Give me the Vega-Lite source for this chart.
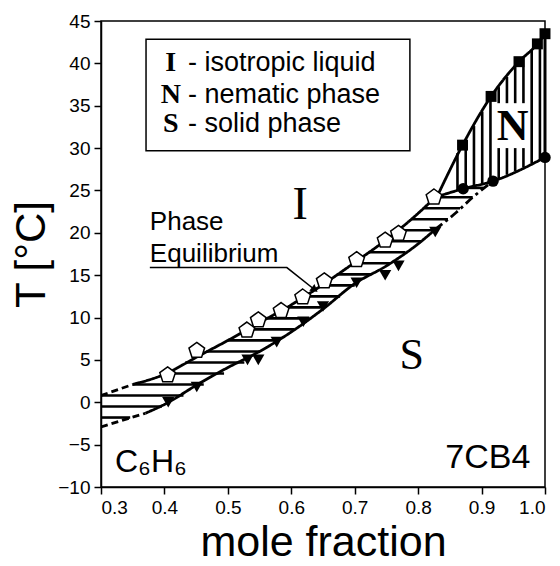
{
  "$schema": "https://vega.github.io/schema/vega-lite/v6.json",
  "width": 444,
  "height": 466,
  "autosize": "none",
  "padding": {"left": 101, "top": 21, "right": 15, "bottom": 79},
  "background": "white",
  "config": {
    "view": {"stroke": "black", "strokeWidth": 1.5},
    "axis": {
      "labelFont": "Liberation Sans", "labelFontSize": 19, "labelColor": "black",
      "titleFont": "Liberation Sans", "titleFontSize": 42, "titleFontWeight": "normal", "titleColor": "black",
      "domainColor": "black", "domainWidth": 1.5, "tickColor": "black", "tickWidth": 1.5, "tickSize": 7,
      "grid": false, "labelPadding": 4
    }
  },
  "datasets": {
    "one": [{}],
    "curves": [
      {"s": "liqd", "x": 0.3, "y": 0.8}, {"s": "liqd", "x": 0.35, "y": 2.1},
      {"s": "liq", "x": 0.35, "y": 2.1}, {"s": "liq", "x": 0.40, "y": 3.3}, {"s": "liq", "x": 0.45, "y": 5.3},
      {"s": "liq", "x": 0.50, "y": 7.3}, {"s": "liq", "x": 0.55, "y": 9.4}, {"s": "liq", "x": 0.60, "y": 11.5},
      {"s": "liq", "x": 0.65, "y": 13.9}, {"s": "liq", "x": 0.70, "y": 16.5}, {"s": "liq", "x": 0.75, "y": 19.2},
      {"s": "liq", "x": 0.80, "y": 22.3}, {"s": "liq", "x": 0.827, "y": 24.2},
      {"s": "sold", "x": 0.3, "y": -2.9}, {"s": "sold", "x": 0.37, "y": -1.3},
      {"s": "sol", "x": 0.37, "y": -1.3}, {"s": "sol", "x": 0.404, "y": -0.1}, {"s": "sol", "x": 0.45, "y": 2.0},
      {"s": "sol", "x": 0.50, "y": 4.1}, {"s": "sol", "x": 0.55, "y": 6.0}, {"s": "sol", "x": 0.60, "y": 8.3},
      {"s": "sol", "x": 0.65, "y": 11.0}, {"s": "sol", "x": 0.70, "y": 14.0}, {"s": "sol", "x": 0.75, "y": 16.1},
      {"s": "sol", "x": 0.80, "y": 18.7}, {"s": "sol", "x": 0.827, "y": 20.4},
      {"s": "soldd", "x": 0.827, "y": 20.4}, {"s": "soldd", "x": 0.86, "y": 22.4}, {"s": "soldd", "x": 0.887, "y": 24.25}, {"s": "soldd", "x": 0.918, "y": 26.1},
      {"s": "nlow", "x": 0.827, "y": 24.2}, {"s": "nlow", "x": 0.871, "y": 25.2}, {"s": "nlow", "x": 0.918, "y": 26.1}, {"s": "nlow", "x": 1.0, "y": 28.9},
      {"s": "nup", "x": 0.83, "y": 24.3}, {"s": "nup", "x": 0.870, "y": 30.35}, {"s": "nup", "x": 0.915, "y": 36.1},
      {"s": "nup", "x": 0.959, "y": 40.2}, {"s": "nup", "x": 0.988, "y": 42.3}, {"s": "nup", "x": 1.0, "y": 43.5}
    ],
    "hatchH": [
      {"y": -1.8, "x": 0.3, "x2": 0.346}, {"y": -0.5, "x": 0.3, "x2": 0.396}, {"y": 0.8, "x": 0.3, "x2": 0.43},
      {"y": 2.1, "x": 0.35, "x2": 0.462}, {"y": 3.4, "x": 0.402, "x2": 0.494}, {"y": 4.7, "x": 0.433, "x2": 0.526},
      {"y": 6.0, "x": 0.466, "x2": 0.55}, {"y": 7.3, "x": 0.50, "x2": 0.578}, {"y": 8.6, "x": 0.531, "x2": 0.605},
      {"y": 9.9, "x": 0.562, "x2": 0.629}, {"y": 11.2, "x": 0.593, "x2": 0.653}, {"y": 12.5, "x": 0.621, "x2": 0.677},
      {"y": 13.8, "x": 0.648, "x2": 0.70}, {"y": 15.1, "x": 0.673, "x2": 0.726}, {"y": 16.4, "x": 0.698, "x2": 0.756},
      {"y": 17.7, "x": 0.722, "x2": 0.78}, {"y": 19.0, "x": 0.746, "x2": 0.805}, {"y": 20.3, "x": 0.768, "x2": 0.827},
      {"y": 21.6, "x": 0.789, "x2": 0.847}, {"y": 22.9, "x": 0.810, "x2": 0.866}, {"y": 24.2, "x": 0.830, "x2": 0.886},
      {"y": 25.3, "x": 0.876, "x2": 0.903}
    ],
    "hatchV": [
      {"x": 0.862, "y": 25.0, "y2": 29.4}, {"x": 0.875, "y": 25.3, "y2": 31.0}, {"x": 0.888, "y": 25.5, "y2": 32.6},
      {"x": 0.901, "y": 25.8, "y2": 34.3}, {"x": 0.914, "y": 26.0, "y2": 35.9},
      {"x": 0.927, "y": 26.4, "y2": 30.0}, {"x": 0.927, "y": 35.3, "y2": 37.2},
      {"x": 0.940, "y": 26.85, "y2": 30.0}, {"x": 0.940, "y": 35.3, "y2": 38.4},
      {"x": 0.953, "y": 27.3, "y2": 30.0}, {"x": 0.953, "y": 35.3, "y2": 39.6},
      {"x": 0.966, "y": 27.7, "y2": 30.0}, {"x": 0.966, "y": 35.3, "y2": 40.7},
      {"x": 0.979, "y": 28.2, "y2": 41.6}, {"x": 0.992, "y": 28.6, "y2": 42.7}
    ],
    "points": [
      {"k": "pent", "x": 0.405, "y": 3.2}, {"k": "pent", "x": 0.451, "y": 6.1}, {"k": "pent", "x": 0.530, "y": 8.5},
      {"k": "pent", "x": 0.548, "y": 9.7}, {"k": "pent", "x": 0.584, "y": 10.8}, {"k": "pent", "x": 0.618, "y": 12.4},
      {"k": "pent", "x": 0.652, "y": 14.3}, {"k": "pent", "x": 0.703, "y": 16.8}, {"k": "pent", "x": 0.748, "y": 19.1},
      {"k": "pent", "x": 0.769, "y": 19.9}, {"k": "pent", "x": 0.825, "y": 24.2},
      {"k": "tri", "x": 0.406, "y": 0.0}, {"k": "tri", "x": 0.451, "y": 1.8}, {"k": "tri", "x": 0.531, "y": 5.0},
      {"k": "tri", "x": 0.548, "y": 5.0}, {"k": "tri", "x": 0.577, "y": 7.1}, {"k": "tri", "x": 0.619, "y": 9.5},
      {"k": "tri", "x": 0.650, "y": 11.3}, {"k": "tri", "x": 0.703, "y": 14.1}, {"k": "tri", "x": 0.748, "y": 15.0},
      {"k": "tri", "x": 0.769, "y": 16.1}, {"k": "tri", "x": 0.827, "y": 20.1},
      {"k": "sq", "x": 0.870, "y": 30.35}, {"k": "sq", "x": 0.915, "y": 36.1}, {"k": "sq", "x": 0.959, "y": 40.2},
      {"k": "sq", "x": 0.988, "y": 42.3}, {"k": "sq", "x": 1.0, "y": 43.5},
      {"k": "circ", "x": 0.871, "y": 25.2}, {"k": "circ", "x": 0.918, "y": 26.1}, {"k": "circ", "x": 1.0, "y": 28.9}
    ],
    "leader": [
      {"x": 0.377, "y": 15.9, "o": 0}, {"x": 0.593, "y": 15.9, "o": 1}, {"x": 0.640, "y": 13.1, "o": 2}
    ],
    "legendRows": [
      {"sym": "I", "txt": "- isotropic liquid", "y": 40.0},
      {"sym": "N", "txt": "- nematic phase", "y": 36.3},
      {"sym": "S", "txt": "- solid phase", "y": 32.9}
    ]
  },
  "layer": [
    {
      "data": {"name": "hatchH"},
      "mark": {"type": "rule", "color": "black", "strokeWidth": 2.6, "clip": true},
      "encoding": {
        "x": {"field": "x", "type": "quantitative", "scale": {"domain": [0.3, 1.0], "nice": false, "zero": false},
              "axis": {"values": [0.3, 0.4, 0.5, 0.6, 0.7, 0.8, 0.9, 1.0], "format": ".1f", "title": "mole fraction", "titlePadding": 4, "titleFontSize": 43}},
        "x2": {"field": "x2"},
        "y": {"field": "y", "type": "quantitative", "scale": {"domain": [-10, 45], "nice": false, "zero": false},
              "axis": {"values": [-10, -5, 0, 5, 10, 15, 20, 25, 30, 35, 40, 45], "title": "T [°C]", "titlePadding": 4}}
      }
    },
    {
      "data": {"name": "hatchV"},
      "mark": {"type": "rule", "color": "black", "strokeWidth": 2.6},
      "encoding": {
        "x": {"field": "x", "type": "quantitative"},
        "y": {"field": "y", "type": "quantitative"},
        "y2": {"field": "y2"}
      }
    },
    {
      "data": {"name": "curves"},
      "mark": {"type": "line", "color": "black", "strokeWidth": 2.8, "interpolate": "monotone", "clip": true},
      "encoding": {
        "x": {"field": "x", "type": "quantitative"},
        "y": {"field": "y", "type": "quantitative"},
        "detail": {"field": "s"},
        "strokeDash": {"field": "s", "type": "nominal", "legend": null,
          "scale": {"domain": ["liq", "liqd", "sol", "sold", "soldd", "nlow", "nup"],
                    "range": [[1, 0], [7, 4], [1, 0], [7, 4], [9, 4, 3, 4], [1, 0], [1, 0]]}}
      }
    },
    {
      "data": {"name": "one"},
      "mark": {"type": "rule", "color": "black", "strokeWidth": 3},
      "encoding": {"x": {"datum": 1.0}, "y": {"datum": 28.9}, "y2": {"datum": 43.5}}
    },
    {
      "data": {"name": "leader"},
      "mark": {"type": "line", "color": "black", "strokeWidth": 1.5},
      "encoding": {
        "x": {"field": "x", "type": "quantitative"},
        "y": {"field": "y", "type": "quantitative"},
        "order": {"field": "o"}
      }
    },
    {
      "data": {"name": "one"},
      "mark": {"type": "point", "shape": "triangle-down", "filled": true, "color": "black", "size": 70, "angle": -52, "opacity": 1},
      "encoding": {"x": {"datum": 0.637}, "y": {"datum": 13.3}}
    },
    {
      "data": {"name": "points"},
      "transform": [{"filter": "datum.k == 'tri'"}],
      "mark": {"type": "point", "shape": "triangle-down", "filled": true, "color": "black", "size": 150, "opacity": 1},
      "encoding": {"x": {"field": "x", "type": "quantitative"}, "y": {"field": "y", "type": "quantitative"}}
    },
    {
      "data": {"name": "points"},
      "transform": [{"filter": "datum.k == 'pent'"}],
      "mark": {"type": "point", "shape": "M0,-1L0.951,-0.309L0.588,0.809L-0.588,0.809L-0.951,-0.309Z", "filled": true, "fill": "white", "stroke": "black", "strokeWidth": 1.5, "size": 270, "opacity": 1},
      "encoding": {"x": {"field": "x", "type": "quantitative"}, "y": {"field": "y", "type": "quantitative"}}
    },
    {
      "data": {"name": "points"},
      "transform": [{"filter": "datum.k == 'sq'"}],
      "mark": {"type": "point", "shape": "square", "filled": true, "color": "black", "size": 120, "opacity": 1},
      "encoding": {"x": {"field": "x", "type": "quantitative"}, "y": {"field": "y", "type": "quantitative"}}
    },
    {
      "data": {"name": "points"},
      "transform": [{"filter": "datum.k == 'circ'"}],
      "mark": {"type": "point", "shape": "circle", "filled": true, "color": "black", "size": 130, "opacity": 1},
      "encoding": {"x": {"field": "x", "type": "quantitative"}, "y": {"field": "y", "type": "quantitative"}}
    },
    {
      "data": {"name": "one"},
      "mark": {"type": "rect", "fill": "white", "stroke": "black", "strokeWidth": 1.5},
      "encoding": {"x": {"datum": 0.371}, "x2": {"datum": 0.787}, "y": {"datum": 29.7}, "y2": {"datum": 42.84}}
    },
    {
      "data": {"name": "legendRows"},
      "mark": {"type": "text", "font": "Liberation Serif", "fontWeight": "bold", "fontSize": 28, "align": "center", "baseline": "middle", "color": "black"},
      "encoding": {"x": {"datum": 0.410}, "y": {"field": "y", "type": "quantitative"}, "text": {"field": "sym"}}
    },
    {
      "data": {"name": "legendRows"},
      "mark": {"type": "text", "font": "Liberation Sans", "fontSize": 27, "align": "left", "baseline": "middle", "color": "black"},
      "encoding": {"x": {"datum": 0.437}, "y": {"field": "y", "type": "quantitative"}, "text": {"field": "txt"}}
    },
    {
      "data": {"name": "one"},
      "mark": {"type": "text", "font": "Liberation Sans", "fontSize": 26, "align": "left", "baseline": "middle", "color": "black"},
      "encoding": {"x": {"datum": 0.377}, "y": {"datum": 21.3}, "text": {"value": "Phase"}}
    },
    {
      "data": {"name": "one"},
      "mark": {"type": "text", "font": "Liberation Sans", "fontSize": 26, "align": "left", "baseline": "middle", "color": "black"},
      "encoding": {"x": {"datum": 0.377}, "y": {"datum": 17.5}, "text": {"value": "Equilibrium"}}
    },
    {
      "data": {"name": "one"},
      "mark": {"type": "text", "font": "Liberation Serif", "fontSize": 46, "align": "center", "baseline": "middle", "color": "black"},
      "encoding": {"x": {"datum": 0.614}, "y": {"datum": 23.3}, "text": {"value": "I"}}
    },
    {
      "data": {"name": "one"},
      "mark": {"type": "text", "font": "Liberation Serif", "fontSize": 44, "align": "center", "baseline": "middle", "color": "black"},
      "encoding": {"x": {"datum": 0.79}, "y": {"datum": 5.5}, "text": {"value": "S"}}
    },
    {
      "data": {"name": "one"},
      "mark": {"type": "text", "font": "Liberation Serif", "fontWeight": "bold", "fontSize": 44, "align": "center", "baseline": "middle", "color": "black"},
      "encoding": {"x": {"datum": 0.949}, "y": {"datum": 32.5}, "text": {"value": "N"}}
    },
    {
      "data": {"name": "one"},
      "mark": {"type": "text", "font": "Liberation Sans", "fontSize": 32, "align": "left", "baseline": "middle", "color": "black"},
      "encoding": {"x": {"datum": 0.322}, "y": {"datum": -7.0}, "text": {"value": "C₆H₆"}}
    },
    {
      "data": {"name": "one"},
      "mark": {"type": "text", "font": "Liberation Sans", "fontSize": 34, "align": "right", "baseline": "middle", "color": "black"},
      "encoding": {"x": {"datum": 0.977}, "y": {"datum": -6.6}, "text": {"value": "7CB4"}}
    }
  ]
}
